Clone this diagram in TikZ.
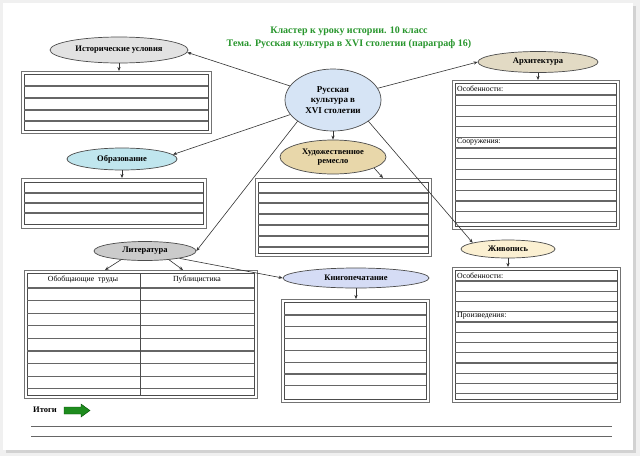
\documentclass[tikz,border=0pt]{standalone}
\usepackage{fontspec}
\setmainfont{Liberation Serif}
\usetikzlibrary{arrows.meta,shapes.geometric}
\definecolor{titlegreen}{RGB}{40,150,45}
\definecolor{skyfill}{RGB}{214,228,245}
\definecolor{greyfill}{RGB}{226,226,226}
\definecolor{cyanfill}{RGB}{192,230,238}
\definecolor{tanfill}{RGB}{232,215,170}
\definecolor{beigefill}{RGB}{226,218,196}
\definecolor{creamfill}{RGB}{251,240,210}
\definecolor{lavfill}{RGB}{213,220,245}
\definecolor{arrowgreen}{RGB}{30,140,30}

\begin{document}
\begin{tikzpicture}[x=1pt,y=-1pt,
  topic/.style={ellipse,draw=black!70,line width=0.7pt,inner sep=0pt,
    align=center,font=\bfseries\fontsize{8.5}{9.5}\selectfont},
  link/.style={-{Stealth[length=4pt,width=3.2pt]},black!80,line width=0.6pt},
  tabout/.style={draw=black!55,line width=0.6pt},
  tabin/.style={draw=black!70,line width=0.7pt},
  tabrow/.style={draw=black!60,line width=1.1pt},
  celltext/.style={anchor=west,inner sep=0pt,font=\fontsize{7.8}{8}\selectfont},
  titletext/.style={text=titlegreen,inner sep=0pt,font=\bfseries\fontsize{10}{11}\selectfont}]
  \useasboundingbox (0,0) rectangle (640,456);
  % page
  \fill[gray!12] (0,0) rectangle (640,456);
  \fill[gray!35] (6,6) rectangle (636,453);
  \fill[white] (3,3) rectangle (633,450);

  \node[titletext] (title1) at (349,31) {Кластер к уроку истории. 10 класс};
  \node[titletext] (title2) at (349,44) {Тема. Русская культура в XVI столетии (параграф 16)};

  \node[topic,fill=skyfill,minimum width=96,minimum height=62,
    font=\bfseries\fontsize{9}{10.5}\selectfont] (culture) at (333,100) {Русская\\культура в\\XVI столетии};
  \node[topic,fill=greyfill,minimum width=138,minimum height=26] (hist) at (119,50) {Исторические условия};
  \node[topic,fill=cyanfill,minimum width=110,minimum height=22] (edu) at (122,159) {Образование};
  \node[topic,fill=tanfill,minimum width=106,minimum height=34] (craft) at (333,157) {Художественное\\ремесло};
  \node[topic,fill=beigefill,minimum width=120,minimum height=21] (arch) at (538,62) {Архитектура};
  \node[topic,fill=creamfill,minimum width=94,minimum height=18] (paint) at (508,249) {Живопись};
  \node[topic,fill=greyfill!90!black,minimum width=102,minimum height=19] (lit) at (145,251) {Литература};
  \node[topic,fill=lavfill,minimum width=146,minimum height=20] (print) at (356,278) {Книгопечатание};

  % tables
  \draw[tabout] (21,71) rectangle (211,133);
  \draw[tabin] (24,74) rectangle (208,130);
  \foreach \y in {86,98,110,121} \draw[tabrow] (24,\y) -- (208,\y);
  \coordinate (histtab) at (119,71);

  \draw[tabout] (21,178) rectangle (206,228);
  \draw[tabin] (24,182) rectangle (203,224);
  \foreach \y in {193,203,213} \draw[tabrow] (24,\y) -- (203,\y);
  \coordinate (edutab) at (122,178);

  \draw[tabout] (255,178) rectangle (431,256);
  \draw[tabin] (258,182) rectangle (428,253);
  \foreach \y in {193,203,214,225,236,247} \draw[tabrow] (258,\y) -- (428,\y);
  \coordinate (crafttab) at (383,178);

  \draw[tabout] (452,80) rectangle (619,229);
  \draw[tabin] (455,83) rectangle (616,226);
  \foreach \k in {0,...,12} \draw[tabrow] (455,95+10.6*\k) -- (616,95+10.6*\k);
  \coordinate (archtab) at (538,80);
  \node[celltext] (archfeat) at (457,89) {Особенности:};
  \node[celltext] (archbuild) at (457,142) {Сооружения:};

  \draw[tabout] (452,267) rectangle (620,402);
  \draw[tabin] (455,270) rectangle (617,399);
  \foreach \k in {0,...,11} \draw[tabrow] (455,281+10.25*\k) -- (617,281+10.25*\k);
  \coordinate (painttab) at (508,267);
  \node[celltext] (paintfeat) at (457,276) {Особенности:};
  \node[celltext] (paintworks) at (457,316) {Произведения:};

  \draw[tabout] (24,270) rectangle (257,398);
  \draw[tabin] (27,273) rectangle (254,395);
  \foreach \k in {0,...,8} \draw[tabrow] (27,288+12.6*\k) -- (254,288+12.6*\k);
  \draw[tabin] (140,273) -- (140,395);
  \coordinate (littabA) at (105,270);
  \coordinate (littabB) at (183,270);
  \node[celltext,anchor=center] (litgen) at (83,280) {Обобщающие\ \ труды};
  \node[celltext,anchor=center] (litpub) at (197,280) {Публицистика};

  \draw[tabout] (281,299) rectangle (429,402);
  \draw[tabin] (284,302) rectangle (426,399);
  \foreach \k in {0,...,6} \draw[tabrow] (284,315+11.8*\k) -- (426,315+11.8*\k);
  \coordinate (printtab) at (356,299);

  % connectors
  \draw[link] (culture) -- (hist.-2);
  \draw[link] (culture) -- (edu.5);
  \draw[link] (culture.211) -- (lit.east);
  \draw[link] (culture) -- (arch.west);
  \draw[link] (culture.-31) -- (paint.170);
  \draw[link] (culture.south) -- (craft.north);
  \draw[link] (lit.-12) -- (print.west);
  \draw[link] (hist) -- (histtab);
  \draw[link] (edu) -- (edutab);
  \draw[link] (craft.-15) -- (crafttab);
  \draw[link] (arch) -- (archtab);
  \draw[link] (paint) -- (painttab);
  \draw[link] (lit.200) -- (littabA);
  \draw[link] (lit.340) -- (littabB);
  \draw[link] (print) -- (printtab);

  % summary
  \node[font=\bfseries\fontsize{8.5}{10}\selectfont,inner sep=0pt] (itogi) at (45,410) {Итоги};
  \fill[arrowgreen,draw=green!30!black,line width=0.4pt]
    (64,407) -- (81,407) -- (81,404) -- (90,410.5) -- (81,417) -- (81,414) -- (64,414) -- cycle;
  \draw[black!60,line width=0.9pt] (31,426) -- (612,426);
  \draw[black!60,line width=0.9pt] (31,436) -- (612,436);
\end{tikzpicture}
\end{document}
